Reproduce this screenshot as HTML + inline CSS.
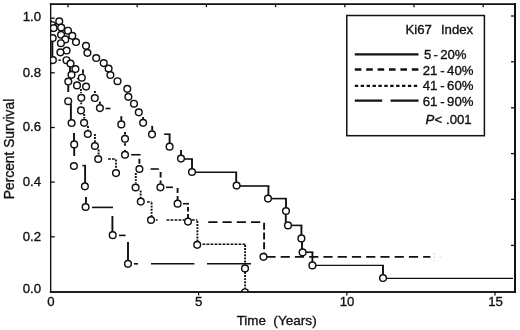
<!DOCTYPE html>
<html><head><meta charset="utf-8"><title>Ki67 Index survival</title>
<style>html,body{margin:0;padding:0;background:#fff}svg{display:block}text{font-family:"Liberation Sans",sans-serif;font-size:13.2px;fill:#111;stroke:#111;stroke-width:0.35px}</style>
</head><body>
<svg width="520" height="330" viewBox="0 0 520 330">
<rect width="520" height="330" fill="#fff"/>
<g fill="none" stroke="#111" stroke-linecap="square"><path d="M50.6,4.2V292" stroke-width="1.2"/><path d="M50.6,4.2H515" stroke-width="1.4"/><path d="M515,4.2V292" stroke-width="1.9"/><path d="M50.6,292H515" stroke-width="1.4"/></g>
<g fill="none" stroke="#111" stroke-width="1.3">
<path d="M68,4.2V7.2"/>
<path d="M137.2,4.2V7.2"/>
<path d="M206.4,4.2V7.2"/>
<path d="M275.6,4.2V7.2"/>
<path d="M344.8,4.2V7.2"/>
<path d="M414,4.2V7.2"/>
<path d="M483.2,4.2V7.2"/>
<path d="M511,16H515"/>
<path d="M511,61.8H515"/>
<path d="M511,107.8H515"/>
<path d="M511,153.6H515"/>
<path d="M511,199.4H515"/>
<path d="M511,245.4H515"/>
<path d="M50.6,18.2H54.8"/>
<path d="M50.6,72.8H54.8"/>
<path d="M50.6,127.5H54.8"/>
<path d="M50.6,182.1H54.8"/>
<path d="M50.6,236.8H54.8"/>
<path d="M198.6,292V295.4"/>
<path d="M346.8,292V295.4"/>
<path d="M495,292V295.4"/>
</g>
<g text-anchor="end">
<text x="41" y="20.9">1.0</text>
<text x="41" y="77.4">0.8</text>
<text x="41" y="131.4">0.6</text>
<text x="41" y="186.2">0.4</text>
<text x="41" y="241.4">0.2</text>
<text x="41" y="293.0">0.0</text>
</g>
<g text-anchor="middle">
<text x="51" y="306.4">0</text>
<text x="198.6" y="306.4">5</text>
<text x="347" y="306.4">10</text>
<text x="495.5" y="306.4">15</text>
<text x="236.7" y="325.2" text-anchor="start" style="font-size:13.4px">Time</text>
<text x="316.7" y="325.2" text-anchor="end" style="font-size:13.6px">(Years)</text>
<text transform="translate(14.3,149) rotate(-90)" style="font-size:13.8px">Percent Survival</text>
</g>
<g fill="none" stroke="#111">
<path d="M52.3,42V57" stroke-width="2"/>
<path d="M51.5,20.5V23" stroke-width="1.6"/>
<g stroke-width="1.9">
<path d="M70,66V72"/>
<path d="M68.25,85V92"/>
<path d="M70.9,103.8V119.6"/>
<path d="M74,133V141M74.2,148V156"/>
<path d="M85.1,165.6V183"/>
<path d="M86,197V203.6"/>
<path d="M112.4,216V232"/>
<path d="M128,242V260.4"/>
<path d="M83,69.4V73.8"/>
<path d="M94.9,91V93"/>
<path d="M99.9,101.6V104"/>
<path d="M121.3,116.2V120.8"/>
<path d="M125,132V134.5M125,143.2V145.8M125,150V151.2"/>
<path d="M139.4,158.8V163.8"/>
<path d="M160.6,172V177.5M160.6,180.6V183.4"/>
<path d="M177.6,188V193M177.6,196V200"/>
<path d="M188,207V211.5M188,214V218"/>
<path d="M264.1,222.7V252.5" stroke-dasharray="7 2.8"/>
<path d="M143.1,117V119.5"/>
<path d="M152.2,125.8V130.8"/>
<path d="M169.6,134.2V143.4"/>
<path d="M181,150V155.2"/>
<path d="M192,159V168.8"/>
<path d="M236.2,172.3V182.4"/>
<path d="M268.4,186V195.4"/>
<path d="M286,198.6V207.8"/>
<path d="M285.8,214.2V222.2"/>
<path d="M301.4,225.4V235.2"/>
<path d="M302,241.6V249.2"/>
<path d="M312.4,252.2V262.2"/>
<path d="M383,265.4V274.8"/>
</g>
<g stroke-width="1.6">
<path d="M82.4,165.6H86"/>
<path d="M92,207.4H113"/>
<path d="M119,235.4H125.6"/>
<path d="M134,263.8H138"/>
<path d="M151,263.7H194.4M207,263.7H251"/>
<path d="M58.5,60.2H60.8"/>
<path d="M76.9,78.6H78.4" stroke-width="1.2"/>
<path d="M105.5,108.5H110.5"/>
<path d="M131.2,154.75H140.6"/>
<path d="M150.6,169H158.8"/>
<path d="M166,187.3H173"/>
<path d="M183,203.7H189"/>
<path d="M208.25,222.1H265" stroke-dasharray="9.2 5.05"/>
<path d="M266.4,256.9H430.4" stroke-dasharray="9.2 5.05"/>
<path d="M434.2,253V261" stroke="#c8c8c8" stroke-width="1" stroke-dasharray="1.5 2"/>
<path d="M439.5,257H441" stroke="#d0d0d0" stroke-width="1"/>
<path d="M164.2,134.2H170.5"/>
<path d="M184.2,159H192.9"/>
<path d="M195.2,172.3H237.1"/>
<path d="M239.8,186H269.3"/>
<path d="M271.2,198.6H286.9"/>
<path d="M291.2,225.4H302.3"/>
<path d="M305.8,252.2H313.3"/>
<path d="M315.6,265.4H383.9" stroke-width="1.3"/>
<path d="M386.2,278.3H513" stroke-width="1.2"/>
</g>
<g stroke-width="1.9" stroke-dasharray="1.9 1.2">
<path d="M81,89V93M81.2,102.4V105"/>
<path d="M84.2,114V118.5"/>
<path d="M88,126V129.5"/>
<path d="M94.9,134V142M98.6,149.5V155"/>
<path d="M116,159.6V169.5"/>
<path d="M135.8,173V183.5"/>
<path d="M140.6,190.5V198"/>
<path d="M151.6,202.6V217"/>
<path d="M197.4,221V242"/>
<path d="M245.1,245V264.5"/>
<path d="M245.1,272V289"/>
</g>
<g stroke-width="1.4" stroke-dasharray="2.8 1.2">
<path d="M108,159H116"/>
<path d="M147,202H151.6"/>
<path d="M155.8,220H157.6M166.5,220H184.5"/>
<path d="M192,220H197.4"/>
<path d="M202.5,244.3H246"/>
</g>
</g>
<clipPath id="pc"><rect x="50.6" y="4" width="464" height="288"/></clipPath>
<g fill="#fff" stroke="#111" stroke-width="1.45" clip-path="url(#pc)">
<circle cx="245" cy="292.2" r="3.35"/>
<circle cx="52.4" cy="25.2" r="3.35"/>
<circle cx="53.6" cy="28.1" r="3.35"/>
<circle cx="52.7" cy="38.1" r="3.35"/>
<circle cx="61.1" cy="34.75" r="3.35"/>
<circle cx="65.3" cy="39.4" r="3.35"/>
<circle cx="60.9" cy="43.2" r="3.35"/>
<circle cx="66.6" cy="50.5" r="3.35"/>
<circle cx="60.4" cy="52.3" r="3.35"/>
<circle cx="52.9" cy="60.1" r="3.35"/>
<circle cx="66.5" cy="60.2" r="3.35"/>
<circle cx="70.5" cy="63.5" r="3.35"/>
<circle cx="75.4" cy="69" r="3.35"/>
<circle cx="71.5" cy="74.8" r="3.35"/>
<circle cx="81.8" cy="77.7" r="3.35"/>
<circle cx="68.3" cy="81.5" r="3.35"/>
<circle cx="77" cy="85.4" r="3.35"/>
<circle cx="86.1" cy="86.6" r="3.35"/>
<circle cx="81.3" cy="97.8" r="3.35"/>
<circle cx="94.8" cy="98" r="3.35"/>
<circle cx="68.2" cy="101.2" r="3.35"/>
<circle cx="99.9" cy="108.1" r="3.35"/>
<circle cx="81" cy="110.4" r="3.35"/>
<circle cx="71.6" cy="123" r="3.35"/>
<circle cx="84.1" cy="122.8" r="3.35"/>
<circle cx="87.8" cy="134" r="3.35"/>
<circle cx="74.2" cy="144.4" r="3.35"/>
<circle cx="94.9" cy="146" r="3.35"/>
<circle cx="98.2" cy="159" r="3.35"/>
<circle cx="73.9" cy="166" r="3.35"/>
<circle cx="84.9" cy="186.3" r="3.35"/>
<circle cx="85.6" cy="207" r="3.35"/>
<circle cx="112.7" cy="235.2" r="3.35"/>
<circle cx="128" cy="263.8" r="3.35"/>
<circle cx="116" cy="173.1" r="3.35"/>
<circle cx="121.3" cy="124.4" r="3.35"/>
<circle cx="125" cy="138.8" r="3.35"/>
<circle cx="125" cy="154.75" r="3.35"/>
<circle cx="139.4" cy="169" r="3.35"/>
<circle cx="135.6" cy="187.5" r="3.35"/>
<circle cx="140.8" cy="201.6" r="3.35"/>
<circle cx="151" cy="220" r="3.35"/>
<circle cx="160.4" cy="187.3" r="3.35"/>
<circle cx="177.6" cy="203.7" r="3.35"/>
<circle cx="188" cy="221.6" r="3.35"/>
<circle cx="197.2" cy="244.8" r="3.35"/>
<circle cx="245" cy="268.4" r="3.35"/>
<circle cx="263.5" cy="256.8" r="3.35"/>
<circle cx="59.25" cy="21.25" r="3.35"/>
<circle cx="61.2" cy="27.5" r="3.35"/>
<circle cx="68" cy="30.7" r="3.35"/>
<circle cx="72.3" cy="35.8" r="3.35"/>
<circle cx="76" cy="42" r="3.35"/>
<circle cx="86" cy="45.8" r="3.35"/>
<circle cx="87.4" cy="52.8" r="3.35"/>
<circle cx="96.2" cy="58" r="3.35"/>
<circle cx="103.7" cy="63.1" r="3.35"/>
<circle cx="108.6" cy="68.5" r="3.35"/>
<circle cx="110.4" cy="75" r="3.35"/>
<circle cx="117.5" cy="81.2" r="3.35"/>
<circle cx="127.3" cy="88.8" r="3.35"/>
<circle cx="128.4" cy="96.8" r="3.35"/>
<circle cx="134" cy="103.7" r="3.35"/>
<circle cx="138.8" cy="112.3" r="3.35"/>
<circle cx="143.1" cy="122.8" r="3.35"/>
<circle cx="152" cy="134.3" r="3.35"/>
<circle cx="169.6" cy="146.7" r="3.35"/>
<circle cx="181" cy="158.6" r="3.35"/>
<circle cx="192" cy="172" r="3.35"/>
<circle cx="236.6" cy="185.6" r="3.35"/>
<circle cx="268" cy="198.6" r="3.35"/>
<circle cx="286" cy="211" r="3.35"/>
<circle cx="288" cy="225.4" r="3.35"/>
<circle cx="301.4" cy="238.4" r="3.35"/>
<circle cx="302.6" cy="252.4" r="3.35"/>
<circle cx="312.4" cy="265.4" r="3.35"/>
<circle cx="383" cy="278" r="3.35"/>
</g>
<g fill="none" stroke="#111" stroke-linecap="square"><path d="M50.6,4.2V292" stroke-width="1.2"/><path d="M50.6,4.2H515" stroke-width="1.4"/><path d="M515,4.2V292" stroke-width="1.9"/><path d="M50.6,292H515" stroke-width="1.4"/></g>
<rect x="346.8" y="15.5" width="137.6" height="120.2" fill="#fff" stroke="#111" stroke-width="1.5"/>
<g fill="none" stroke="#111" stroke-width="2.4">
<path d="M354.8,54.4H418.5"/>
<path d="M354.8,69.5H418.5" stroke-dasharray="6.6 4.8"/>
<path d="M354.8,85.9H418.5" stroke-dasharray="3.4 2.5"/>
<path d="M354.8,100.6H382.2M390.6,100.6H418.5"/>
</g>
<text y="33.7"><tspan x="405.5">Ki67</tspan><tspan x="440.9">Index</tspan></text>
<text y="58.8"><tspan x="424">5</tspan><tspan x="433.4">-</tspan><tspan x="440.2">20%</tspan></text>
<text y="74.6"><tspan x="422.7">21</tspan><tspan x="440.2">-</tspan><tspan x="447.1">40%</tspan></text>
<text y="90.3"><tspan x="422.7">41</tspan><tspan x="440.2">-</tspan><tspan x="447.1">60%</tspan></text>
<text y="105.6"><tspan x="422.7">61</tspan><tspan x="440.2">-</tspan><tspan x="447.1">90%</tspan></text>
<text y="123.8"><tspan x="425.4" font-style="italic">P</tspan><tspan x="434.6">&lt;</tspan><tspan x="446">.001</tspan></text>
</svg>
</body></html>
